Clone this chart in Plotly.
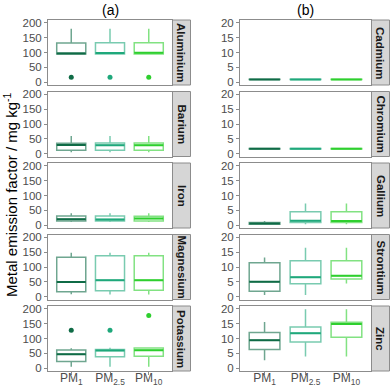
import plotly.graph_objects as go

# ---------------- data ----------------
categories = ["PM<sub>1</sub>", "PM<sub>2.5</sub>", "PM<sub>10</sub>"]
colors = ["#0f6b46", "#1fa87b", "#2ecf2e"]
box_colors = ["rgba(15,107,70,0.6)", "rgba(31,168,123,0.6)", "rgba(46,207,46,0.6)"]

left_metals = ["Aluminium", "Barium", "Iron", "Magnesium", "Potassium"]
right_metals = ["Cadmium", "Chromium", "Gallium", "Strontium", "Zinc"]

# per metal: lists over PM1, PM2.5, PM10
q1 = {
    "Aluminium": [95, 95, 95], "Barium": [11, 11, 11], "Iron": [14, 14, 14],
    "Magnesium": [16, 20, 21], "Potassium": [22, 38, 40],
    "Cadmium": [0.85, 0.85, 0.85], "Chromium": [1.5, 1.5, 1.5],
    "Gallium": [0.25, 0.9, 0.9], "Strontium": [1.8, 4.3, 5.9], "Zinc": [6.3, 8.8, 10.4],
}
median = {
    "Aluminium": [97, 98, 99], "Barium": [29, 28, 28], "Iron": [20, 19, 22],
    "Magnesium": [49, 55, 55], "Potassium": [47, 59, 60],
    "Cadmium": [0.9, 0.9, 0.9], "Chromium": [1.6, 1.6, 1.6],
    "Gallium": [0.5, 1.45, 1.4], "Strontium": [5.0, 6.5, 7.0], "Zinc": [9.4, 11.8, 14.9],
}
q3 = {
    "Aluminium": [132, 133, 133], "Barium": [35, 36, 36], "Iron": [31, 31, 30],
    "Magnesium": [133, 138, 138], "Potassium": [61, 63, 68],
    "Cadmium": [0.95, 0.95, 0.95], "Chromium": [1.7, 1.7, 1.7],
    "Gallium": [0.9, 4.5, 4.5], "Strontium": [11.4, 12.1, 12.1], "Zinc": [12.0, 13.9, 15.5],
}
lower = {
    "Aluminium": [95, 95, 95], "Barium": [4, 4, 4], "Iron": [10, 10, 10],
    "Magnesium": [7.5, 7, 7], "Potassium": [4, 4, 4],
    "Cadmium": [0.85, 0.85, 0.85], "Chromium": [1.5, 1.5, 1.5],
    "Gallium": [0.2, 0.3, 0.3], "Strontium": [0.5, 0.5, 4.4], "Zinc": [2.6, 3.9, 3.9],
}
upper = {
    "Aluminium": [180, 180, 180], "Barium": [59, 59, 59], "Iron": [40, 40, 40],
    "Magnesium": [148, 148, 148], "Potassium": [67, 69, 70],
    "Cadmium": [0.95, 0.95, 0.95], "Chromium": [1.7, 1.7, 1.7],
    "Gallium": [1.35, 7.3, 7.3], "Strontium": [13.2, 16.5, 16.5], "Zinc": [15.6, 19.9, 19.9],
}
outliers = {
    "Aluminium": [[16], [16], [16]],
    "Potassium": [[128], [128], [178]],
}

left_ticks = [0, 50, 100, 150, 200]
right_ticks = [0, 5, 10, 15, 20]

# ---------------- layout geometry ----------------
W, H = 390, 387
row_tops = [20, 91.5, 163, 234.5, 306]
row_h = 65
col_x = [(48, 172), (240, 371)]
strip_x = [(172.5, 190.5), (371.5, 389.5)]

fig = go.Figure()
layout = {}
shapes = []
annotations = []
FONT = "Arial, Liberation Sans, sans-serif"

panel = 0
for c, metals in enumerate([left_metals, right_metals]):
    for r, metal in enumerate(metals):
        panel += 1
        xa = "x" if panel == 1 else f"x{panel}"
        ya = "y" if panel == 1 else f"y{panel}"
        for g, cat in enumerate(categories):
            fig.add_trace(go.Box(
                x=[cat], q1=[q1[metal][g]], median=[median[metal][g]], q3=[q3[metal][g]],
                lowerfence=[lower[metal][g]], upperfence=[upper[metal][g]],
                width=0.75, whiskerwidth=0, boxpoints=False,
                line=dict(color=box_colors[g], width=1.5),
                fillcolor="rgba(255,255,255,0)",
                xaxis=xa, yaxis=ya, showlegend=False, hoverinfo="skip"))
            m = median[metal][g]
            fig.add_trace(go.Box(
                x=[cat], q1=[m], median=[m], q3=[m], lowerfence=[m], upperfence=[m],
                width=0.75, whiskerwidth=0, boxpoints=False,
                line=dict(color=colors[g], width=2),
                fillcolor="rgba(255,255,255,0)",
                xaxis=xa, yaxis=ya, showlegend=False, hoverinfo="skip"))
            if metal in outliers:
                ys = outliers[metal][g]
                fig.add_trace(go.Scatter(
                    x=[cat] * len(ys), y=ys, mode="markers",
                    marker=dict(color=colors[g], size=5),
                    xaxis=xa, yaxis=ya, showlegend=False, hoverinfo="skip"))

        top = row_tops[r]
        y0 = 1 - (top + row_h) / H
        y1 = 1 - top / H
        x0 = col_x[c][0] / W
        x1 = col_x[c][1] / W
        bottom = (r == len(metals) - 1)
        key_x = "xaxis" if panel == 1 else f"xaxis{panel}"
        key_y = "yaxis" if panel == 1 else f"yaxis{panel}"
        layout[key_x] = dict(
            domain=[x0, x1], anchor=ya, type="category",
            categoryorder="array", categoryarray=categories,
            range=[-0.6, 2.6], showline=True, mirror=True,
            linecolor="#8c8c8c", linewidth=1, showgrid=False, zeroline=False,
            ticks="outside" if bottom else "", ticklen=3, tickcolor="#8c8c8c",
            showticklabels=bottom, automargin=False, ticklabelstandoff=-7,
            tickfont=dict(family=FONT, size=12, color="#4d4d4d"))
        ticks = left_ticks if c == 0 else right_ticks
        rng = [-10, 210] if c == 0 else [-1, 21]
        layout[key_y] = dict(
            domain=[y0, y1], anchor=xa, range=rng,
            tickmode="array", tickvals=ticks, ticktext=[str(t) for t in ticks],
            showline=True, mirror=True, linecolor="#8c8c8c", linewidth=1,
            showgrid=False, zeroline=False, ticks="outside", ticklen=3,
            tickcolor="#8c8c8c", automargin=False,
            tickfont=dict(family=FONT, size=11.5, color="#4d4d4d"))
        # strip
        sx0, sx1 = strip_x[c]
        shapes.append(dict(type="rect", xref="paper", yref="paper",
                           x0=sx0 / W, x1=sx1 / W, y0=y0, y1=y1,
                           fillcolor="#d6d6d6", line=dict(color="#8c8c8c", width=1),
                           layer="below"))
        annotations.append(dict(xref="paper", yref="paper",
                                x=(sx0 + sx1) / 2 / W, y=(y0 + y1) / 2,
                                text=f"<b>{metal}</b>", textangle=90, showarrow=False,
                                font=dict(family=FONT, size=11.5, color="#1a1a1a"),
                                xanchor="center", yanchor="middle"))

annotations.append(dict(xref="paper", yref="paper", x=110 / W, y=1 - 10 / H,
                        text="(a)", showarrow=False,
                        font=dict(family=FONT, size=14, color="black"),
                        xanchor="center", yanchor="middle"))
annotations.append(dict(xref="paper", yref="paper", x=305 / W, y=1 - 10 / H,
                        text="(b)", showarrow=False,
                        font=dict(family=FONT, size=14, color="black"),
                        xanchor="center", yanchor="middle"))
annotations.append(dict(xref="paper", yref="paper", x=10 / W, y=1 - 195 / H,
                        text="Metal emission factor / mg kg<sup>-1</sup>",
                        textangle=-90, showarrow=False,
                        font=dict(family=FONT, size=15, color="black"),
                        xanchor="center", yanchor="middle"))

fig.update_layout(
    template="none", width=W, height=H,
    margin=dict(l=0, r=0, t=0, b=0),
    paper_bgcolor="white", plot_bgcolor="white",
    showlegend=False, boxmode="overlay",
    shapes=shapes, annotations=annotations, **layout)

fig.write_html("out.html", config={"displayModeBar": False},
               post_script="document.body.style.margin='0';document.body.style.overflow='hidden';")
